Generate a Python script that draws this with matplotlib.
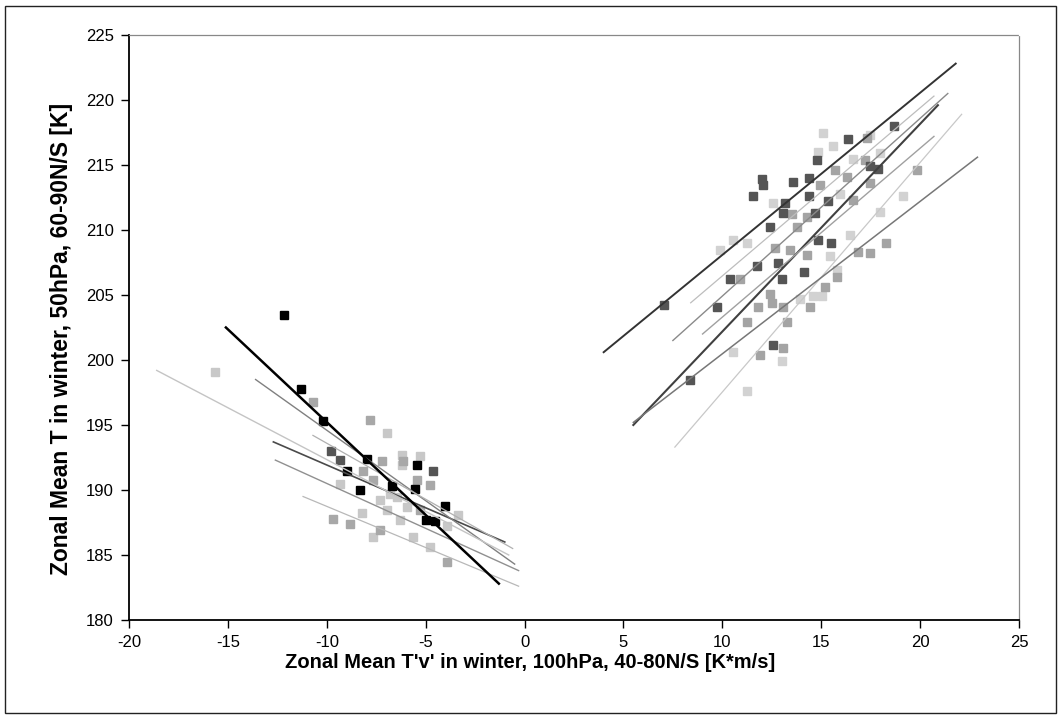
import matplotlib
matplotlib.use("Agg")
import matplotlib.pyplot as plt
from matplotlib.patches import Rectangle

plt.rcParams['font.family'] = ['Liberation Sans', 'DejaVu Sans']

# ---------------- data ----------------
# Southern cluster (negative heat flux)
sh_black_x = [-12.16, -11.32, -10.18, -8.99, -7.98, -8.32, -6.72, -5.54, -5.45, -4.04, -4.53, -4.96]
sh_black_y = [203.46, 197.8, 195.3, 191.5, 192.4, 190.0, 190.3, 190.1, 191.9, 188.8, 187.6, 187.7]

sh_dark_x = [-9.80, -9.31, -4.61]
sh_dark_y = [193.0, 192.3, 191.5]

sh_mid_x = [-7.80, -10.68, -7.22, -8.15, -7.65, -4.78, -9.67, -8.83, -7.31, -3.94, -5.29, -5.45, -6.13]
sh_mid_y = [195.4, 196.8, 192.2, 191.5, 190.8, 190.4, 187.8, 187.4, 186.9, 184.5, 188.5, 190.8, 192.2]

sh_light_x = [-15.65, -6.97, -6.21, -6.21, -5.29, -9.31, -3.35, -8.24, -6.30, -5.63, -4.78, -6.97, -5.96,
              -7.31, -6.47, -3.94, -7.65, -6.80]
sh_light_y = [199.1, 194.4, 192.7, 191.9, 192.6, 190.5, 188.1, 188.2, 187.7, 186.4, 185.6, 188.5, 188.7,
              189.2, 189.5, 187.2, 186.4, 189.7]

# Northern cluster (positive heat flux)
nh_dark_x = [18.68, 16.37, 14.77, 11.99, 12.07, 13.55, 14.38, 11.53, 13.16, 14.39, 15.32, 17.46, 17.88,
             14.68, 12.41, 13.08, 14.85, 15.49, 11.73, 10.38, 9.71, 7.06, 12.57, 8.36, 14.14, 13.00, 12.80]
nh_dark_y = [218.0, 217.0, 215.4, 213.9, 213.5, 213.7, 214.0, 212.6, 212.1, 212.6, 212.2, 214.9, 214.7,
             211.3, 210.25, 211.3, 209.2, 209.0, 207.2, 206.2, 204.1, 204.2, 201.15, 198.5, 206.8, 206.2, 207.5]

nh_mid_x = [17.29, 17.21, 19.82, 18.30, 16.87, 17.46, 16.62, 15.69, 14.93, 14.26, 13.50, 13.76, 12.66, 13.42,
            14.26, 10.89, 12.41, 12.49, 11.82, 13.08, 13.25, 11.23, 11.90, 13.08, 15.78, 15.19, 14.43, 16.28, 17.46]
nh_mid_y = [217.1, 215.4, 214.6, 209.0, 208.3, 208.2, 212.3, 214.6, 213.5, 211.0, 211.2, 210.25, 208.6, 208.5,
            208.1, 206.2, 205.1, 204.4, 204.1, 204.1, 202.9, 202.9, 200.4, 200.9, 206.4, 205.6, 204.1, 214.1, 213.6]

nh_light_x = [15.10, 15.61, 14.85, 17.97, 19.15, 17.97, 16.45, 12.57, 10.55, 9.88, 11.23, 15.44, 14.60, 15.02,
              15.78, 10.55, 11.23, 13.00, 13.92, 15.95, 17.46, 16.62]
nh_light_y = [217.5, 216.5, 216.0, 215.9, 212.6, 211.4, 209.6, 212.1, 209.2, 208.5, 209.0, 208.0, 204.9, 204.9,
              206.9, 200.6, 197.6, 199.9, 204.7, 212.8, 217.3, 215.5]

# Trend lines: start x, start y, end x, end y
sh_trend_x0 = [-15.1, -12.7, -13.6, -18.6, -12.6, -10.7, -11.2]
sh_trend_y0 = [202.5, 193.7, 198.5, 199.2, 192.3, 194.2, 189.5]
sh_trend_x1 = [-1.3, -1.0, -0.5, -0.8, -0.3, -0.6, -0.3]
sh_trend_y1 = [182.8, 186.0, 184.3, 185.0, 183.8, 185.5, 182.6]

nh_trend_x0 = [4.0, 8.4, 7.5, 5.5, 9.0, 7.6, 5.5]
nh_trend_y0 = [200.6, 204.4, 201.5, 195.0, 202.0, 193.3, 195.2]
nh_trend_x1 = [21.8, 20.7, 21.4, 20.9, 20.7, 22.1, 22.9]
nh_trend_y1 = [222.8, 220.3, 220.5, 219.6, 217.2, 218.9, 215.6]

x_ticks = [-20, -15, -10, -5, 0, 5, 10, 15, 20, 25]
y_ticks = [180, 185, 190, 195, 200, 205, 210, 215, 220, 225]

xlabel = "Zonal Mean T'v' in winter, 100hPa, 40-80N/S [K*m/s]"
ylabel = "Zonal Mean T in winter, 50hPa, 60-90N/S [K]"

# ---------------- styles ----------------
sh_trend_style = [('#000000', 1.8), ('#4a4a4a', 1.2), ('#808080', 1.0), ('#c4c4c4', 1.0),
                  ('#909090', 1.0), ('#b0b0b0', 0.9), ('#b8b8b8', 0.9)]
nh_trend_style = [('#333333', 1.4), ('#bdbdbd', 0.9), ('#8a8a8a', 1.0), ('#404040', 1.5),
                  ('#a0a0a0', 1.0), ('#c8c8c8', 0.9), ('#777777', 1.1)]

fig = plt.figure(figsize=(10.62, 7.19), dpi=100)
fig.patch.set_facecolor('white')
fig.patches.append(Rectangle((5 / 1062, 6 / 719), 1051 / 1062, 707 / 719, transform=fig.transFigure,
                             fill=False, edgecolor='#222222', linewidth=1.0))

ax = fig.add_axes([129 / 1062, (719 - 620) / 719, 890 / 1062, 585 / 719])

ms = 6.2
# points
ax.plot(sh_light_x, sh_light_y, 's', ms=ms, color='#c8c8c8', mec='#c8c8c8', zorder=2)
ax.plot(nh_light_x, nh_light_y, 's', ms=ms, color='#d2d2d2', mec='#d2d2d2', zorder=2)
ax.plot(sh_mid_x, sh_mid_y, 's', ms=ms, color='#a8a8a8', mec='#a8a8a8', zorder=3)
ax.plot(nh_mid_x, nh_mid_y, 's', ms=ms, color='#a4a4a4', mec='#a4a4a4', zorder=3)
ax.plot(sh_dark_x, sh_dark_y, 's', ms=ms, color='#555555', mec='#555555', zorder=4)
ax.plot(nh_dark_x, nh_dark_y, 's', ms=ms, color='#555555', mec='#555555', zorder=4)
ax.plot(sh_black_x, sh_black_y, 's', ms=ms, color='#000000', mec='#000000', zorder=5)

# trend lines
for i in range(len(sh_trend_x0)):
    c, lw = sh_trend_style[i]
    ax.plot([sh_trend_x0[i], sh_trend_x1[i]], [sh_trend_y0[i], sh_trend_y1[i]], '-', color=c, lw=lw,
            zorder=6 if i == 0 else 5)
for i in range(len(nh_trend_x0)):
    c, lw = nh_trend_style[i]
    ax.plot([nh_trend_x0[i], nh_trend_x1[i]], [nh_trend_y0[i], nh_trend_y1[i]], '-', color=c, lw=lw, zorder=5)

ax.set_xlim(-20, 25)
ax.set_ylim(180, 225)
ax.set_xticks(x_ticks)
ax.set_yticks(y_ticks)
ax.set_xticklabels([str(t) for t in x_ticks])
ax.set_yticklabels([str(t) for t in y_ticks])
ax.tick_params(axis='both', direction='out', length=6, width=1.0, labelsize=12, colors='black')
ax.tick_params(axis='x', pad=5)
ax.tick_params(axis='y', pad=5)

for s in ['left', 'bottom']:
    ax.spines[s].set_color('black')
    ax.spines[s].set_linewidth(1.3)
for s in ['top', 'right']:
    ax.spines[s].set_color('#888888')
    ax.spines[s].set_linewidth(0.9)
    ax.spines[s].set_linestyle((0, (1, 1)))

ax.set_xlabel(xlabel, fontsize=14.5, fontweight='bold')
ax.xaxis.set_label_coords((530 - 129) / 890, -(662 - 620) / 585)
ax.xaxis.label.set_va('center')
ax.set_ylabel(ylabel, fontsize=16.5, fontweight='bold')
ax.yaxis.set_label_coords(-(129 - 62) / 890, (620 - 339) / 585)
ax.yaxis.label.set_va('center')

fig.savefig('out.png', dpi=100, facecolor='white')
